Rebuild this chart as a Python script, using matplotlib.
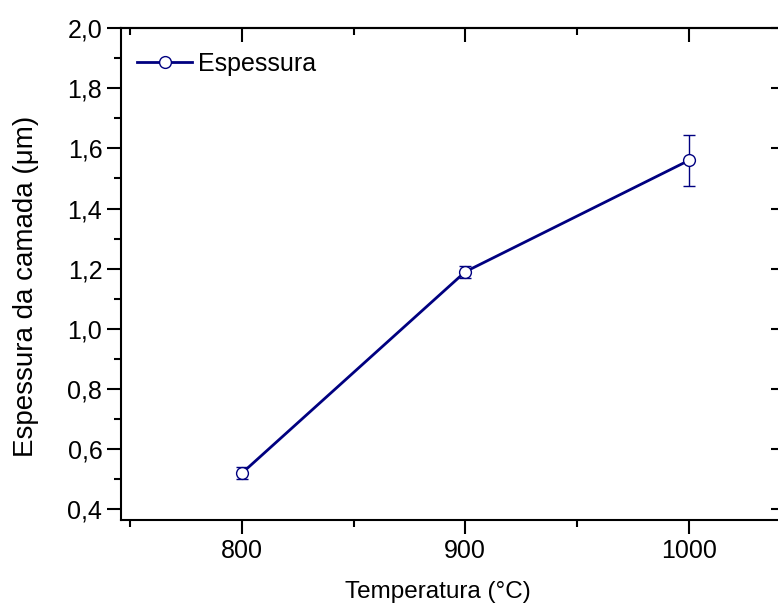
import matplotlib
matplotlib.use("Agg")
import matplotlib.pyplot as plt
from matplotlib.ticker import MultipleLocator, FuncFormatter
from matplotlib.lines import Line2D

temperature = [800, 900, 1000]
thickness = [0.52, 1.19, 1.56]
thickness_err = [0.02, 0.02, 0.084]
series_label = "Espessura"
xlabel = "Temperatura (°C)"
ylabel = "Espessura da camada (μm)"

plt.rcParams['font.family'] = ['Liberation Sans', 'DejaVu Sans']

fig = plt.figure(figsize=(7.78, 6.09), dpi=100)
L, R, B, T = 121/778, 785/778, (609-520)/609, (609-28)/609
ax = fig.add_axes([L, B, R-L, T-B])

color = '#000080'
ax.errorbar(temperature, thickness, yerr=thickness_err, color=color, lw=2.0,
            marker='o', ms=8.5, mfc='white', mec=color, mew=1.0,
            ecolor=color, elinewidth=1.0, capsize=4, capthick=1.0)

ax.set_xlim(746, 1043)
ax.set_ylim(0.365, 2.0)
ax.set_xticks(temperature)
ax.xaxis.set_minor_locator(MultipleLocator(50))
ax.yaxis.set_major_locator(MultipleLocator(0.2))
ax.yaxis.set_minor_locator(MultipleLocator(0.1))
ax.yaxis.set_major_formatter(FuncFormatter(lambda v, p: f"{v:.1f}".replace('.', ',')))

for s in ax.spines.values():
    s.set_linewidth(1.5)

ax.tick_params(axis='both', which='major', labelsize=18, width=1.5, length=10)
ax.tick_params(axis='both', which='minor', width=1.5, length=5)
ax.tick_params(axis='x', which='both', direction='out', top=False)
ax.tick_params(axis='y', which='both', direction='out', right=False, pad=3.5)

axt = ax.secondary_xaxis('top')
axt.set_xticks(temperature)
axt.xaxis.set_minor_locator(MultipleLocator(50))
axt.tick_params(which='major', direction='in', length=10, width=1.5, labeltop=False)
axt.tick_params(which='minor', direction='in', length=5, width=1.5)
axt.spines['top'].set_linewidth(1.5)
axr = ax.secondary_yaxis('right')
axr.yaxis.set_major_locator(MultipleLocator(0.2))
axr.yaxis.set_minor_locator(MultipleLocator(0.1))
axr.tick_params(which='major', direction='in', length=10, width=1.5, labelright=False)
axr.tick_params(which='minor', direction='in', length=5, width=1.5)

ax.set_xlabel(xlabel, fontsize=17.5)
ax.set_ylabel(ylabel, fontsize=20)
ax.xaxis.set_label_coords((438-121)/664, (520-581)/492)
ax.yaxis.set_label_coords((39-121)/664, (520-286)/492)

handle = Line2D([], [], color=color, lw=2.0, marker='o', ms=8.5,
                mfc='white', mec=color, mew=1.0)
ax.legend([handle], [series_label], loc='center left',
          bbox_to_anchor=((137-121)/664, (520-64)/492),
          frameon=False, fontsize=18, handlelength=2.2,
          handletextpad=0.25, borderaxespad=0, borderpad=0)

fig.savefig("out.png", dpi=100)
